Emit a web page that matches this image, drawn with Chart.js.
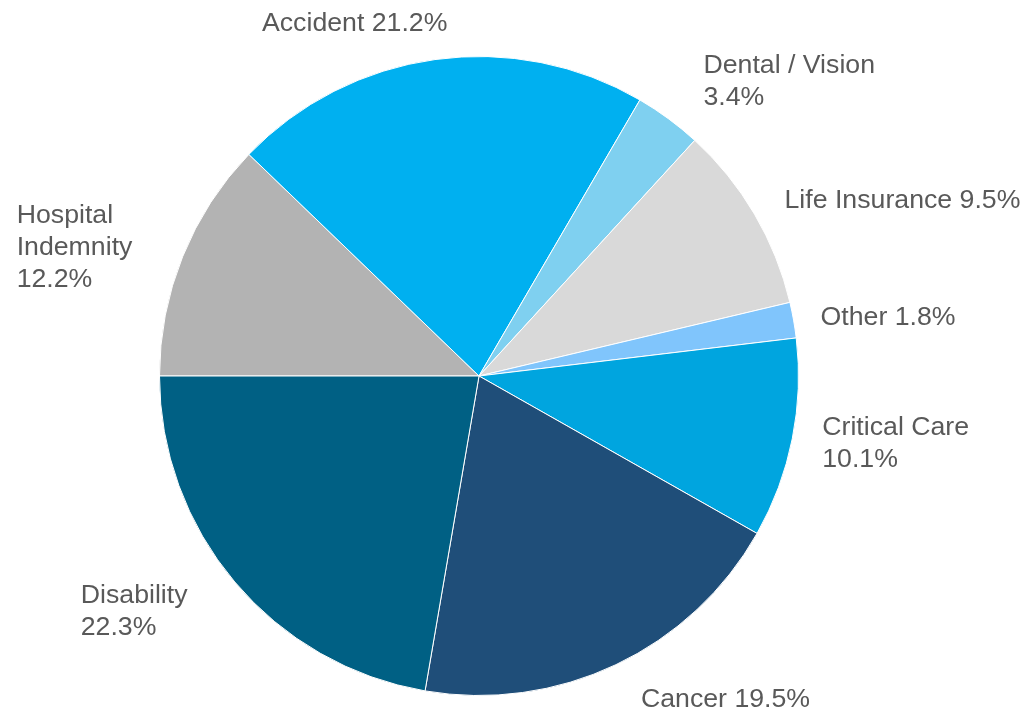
<!DOCTYPE html>
<html>
<head>
<meta charset="utf-8">
<script src="https://cdn.jsdelivr.net/npm/chart.js@4"></script>
<style>
  body { margin: 0; background: #fff; }
  #wrap { width: 1025px; height: 714px; position: relative; }
</style>
</head>
<body>
<div id="wrap"><canvas id="myChart"></canvas></div>
<script>
// data, clockwise starting from 9 o'clock
const categories = ['Hospital Indemnity', 'Accident', 'Dental / Vision', 'Life Insurance', 'Other', 'Critical Care', 'Cancer', 'Disability'];
const shares = [12.2, 21.2, 3.4, 9.5, 1.8, 10.1, 19.5, 22.3];
const labelText = ['Hospital\nIndemnity\n', 'Accident ', 'Dental / Vision\n', 'Life Insurance ', 'Other ', 'Critical Care\n', 'Cancer ', 'Disability\n'];
const sliceColors = ['#B3B3B3', '#00B0F0', '#7FD0F0', '#D9D9D9', '#80C5FC', '#00A5DF', '#1F4E79', '#006084'];

// label offset from the middle of each slice's rim
const labelNudge = [[-166, -34], [-173, -29], [35, -46], [30, -6], [27, 5], [30, -4], [25, 42], [-154, 21]];

const sliceLabels = {
    id: 'sliceLabels',
    afterDatasetsDraw(chart) {
        const ctx = chart.ctx;
        const meta = chart.getDatasetMeta(0);
        ctx.save();
        ctx.font = '26.7px "Liberation Sans", Arial, sans-serif';
        ctx.fillStyle = '#595959';
        ctx.textAlign = 'left';
        ctx.textBaseline = 'alphabetic';
        meta.data.forEach(function (arc, i) {
            const p = arc.getProps(['x', 'y', 'startAngle', 'endAngle', 'outerRadius'], true);
            const mid = (p.startAngle + p.endAngle) / 2;
            const x = p.x + Math.cos(mid) * p.outerRadius + labelNudge[i][0];
            const y = p.y + Math.sin(mid) * p.outerRadius + labelNudge[i][1];
            const lines = (labelText[i] + shares[i].toFixed(1) + '%').split('\n');
            lines.forEach(function (line, j) {
                ctx.fillText(line, x, y + j * 32.3);
            });
        });
        ctx.restore();
    }
};

const ctx = document.getElementById('myChart').getContext('2d');
const myChart = new Chart(ctx, {
    type: 'pie',
    data: {
        labels: categories,
        datasets: [{
            data: shares,
            backgroundColor: sliceColors,
            borderColor: '#ffffff',
            borderWidth: 1
        }]
    },
    options: {
        responsive: true,
        maintainAspectRatio: false,
        animation: false,
        rotation: -90,
        layout: {
            padding: { left: 159, right: 226, top: 56, bottom: 18 }
        },
        plugins: {
            legend: { display: false },
            tooltip: { enabled: false }
        }
    },
    plugins: [sliceLabels]
});
</script>
</body>
</html>
